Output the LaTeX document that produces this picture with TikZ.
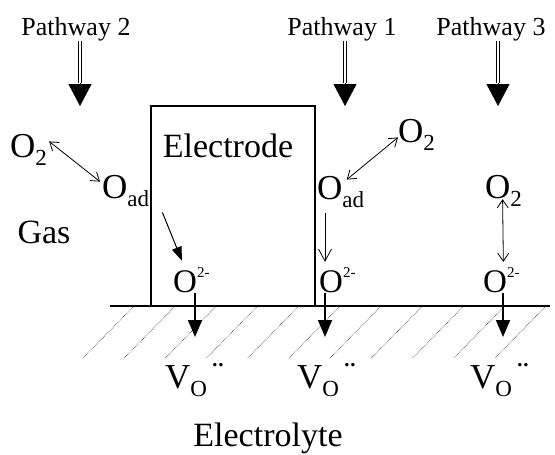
\documentclass[tikz,border=0pt]{standalone}
\usepackage{fontspec}
\setmainfont{Liberation Serif}
\usetikzlibrary{arrows.meta,positioning}

\newcommand{\chsub}[1]{\raisebox{-8pt}{\fontsize{23}{23}\selectfont #1}}
\newcommand{\chsup}[1]{\raisebox{15pt}{\fontsize{15}{15}\selectfont #1}}

\begin{document}
\begin{tikzpicture}[
  x=1pt, y=-1pt,
  lbl/.style={inner sep=0pt, anchor=base, font=\fontsize{26}{30}\selectfont},
  big/.style={inner sep=0pt, anchor=base, font=\fontsize{34}{40}\selectfont},
  spec/.style={inner sep=0pt, anchor=base west, font=\fontsize{35}{40}\selectfont},
  ion/.style={inner sep=0pt, anchor=base west, font=\fontsize{33}{38}\selectfont},
  vac/.style={inner sep=0pt, anchor=base west, font=\fontsize{35}{40}\selectfont},
  shaft/.style={double, double distance=2.2pt, line width=0.8pt},
  head/.style={-{Triangle[length=22pt, width=23pt]}, line width=0.8pt},
  down/.style={-{Triangle[length=17pt, width=14pt]}, line width=1.8pt},
  arr/.style={-{Triangle[length=14pt, width=10pt]}, line width=1pt},
  barb/.style={{Straight Barb[length=8pt, width=11pt]}-{Straight Barb[length=8pt, width=11pt]}, line width=0.8pt},
  onebarb/.style={-{Straight Barb[length=12pt, width=13pt]}, line width=0.8pt},
  hatch/.style={line width=0.6pt, black!85, densely dotted},
]
\useasboundingbox (0,0) rectangle (555,455);

%% electrolyte surface
\foreach \i in {0,...,10}
  \draw[hatch] (83+41.2*\i,358) -- ++(52,-53);
\node[draw, line width=1.1pt, minimum width=164pt, minimum height=200pt,
      inner sep=0pt] (elec) at (233,206) {};
\draw[line width=1.8pt] (110,306) -- (550,306);

\node[big] (electxt) at (228,157) {Electrode};
\node[big] (gas) at (44,243) {Gas};
\node[big] (electrolyte) at (268,446) {Electrolyte};

%% incoming pathways
\node[lbl] (pw2) at (76,35)  {Pathway 2};
\node[lbl] (pw1) at (342,35) {Pathway 1};
\node[lbl] (pw3) at (491,35) {Pathway 3};
\foreach \p/\x in {2/80, 1/345, 3/498} {
  \coordinate (h\p) at (\x,83);
  \coordinate (t\p) at (\x,106);
  \draw[shaft] (h\p |- pw\p.south) -- (h\p);
  \draw[head] (h\p) -- (t\p);
}

%% species
\node[spec] (o2l)  at (10,157)  {O\chsub{2}};
\node[spec] (oadl) at (102,198) {O\chsub{ad}};
\node[spec] (o2r)  at (398,142) {O\chsub{2}};
\node[spec] (oadr) at (317,199) {O\chsub{ad}};
\node[spec] (o2p)  at (485,198) {O\chsub{2}};
\node[ion] (oml) at (173,292) {O\chsup{2-}};
\node[ion] (omm) at (319,292) {O\chsup{2-}};
\node[ion] (omr) at (483,292) {O\chsup{2-}};
\node[vac] (vl) at (165,388) {V\chsub{O}\hspace{5pt}\raisebox{3pt}{¨}};
\node[vac] (vm) at (297,388) {V\chsub{O}\hspace{5pt}\raisebox{3pt}{¨}};
\node[vac] (vr) at (470,388) {V\chsub{O}\hspace{5pt}\raisebox{3pt}{¨}};

%% reactions
\draw[barb] ([shift={(2pt,8pt)}]o2l.east) -- ([shift={(-2pt,-7pt)}]oadl.north west);
\draw[arr] ([shift={(13pt,-6pt)}]oadl.south east) -- ([shift={(9pt,6pt)}]oml.north west);
\draw[barb] ([shift={(6pt,-4pt)}]oadr.north) -- ([yshift=-3pt]o2r.west);
\draw[onebarb] ([shift={(8pt,-6pt)}]oadr.south west) -- ([shift={(6pt,5pt)}]omm.north west);
\draw[barb] ([shift={(-1pt,7pt)}]o2p.south) -- ([shift={(2pt,5pt)}]omr.north);

\coordinate (dl) at (195,337);
\coordinate (dm) at (325,337);
\coordinate (dr) at (503,337);
\draw[down] (dl |- oml.south) -- (dl);
\draw[down] (dm |- omm.south) -- (dm);
\draw[down] (dr |- omr.south) -- (dr);
\end{tikzpicture}
\end{document}
